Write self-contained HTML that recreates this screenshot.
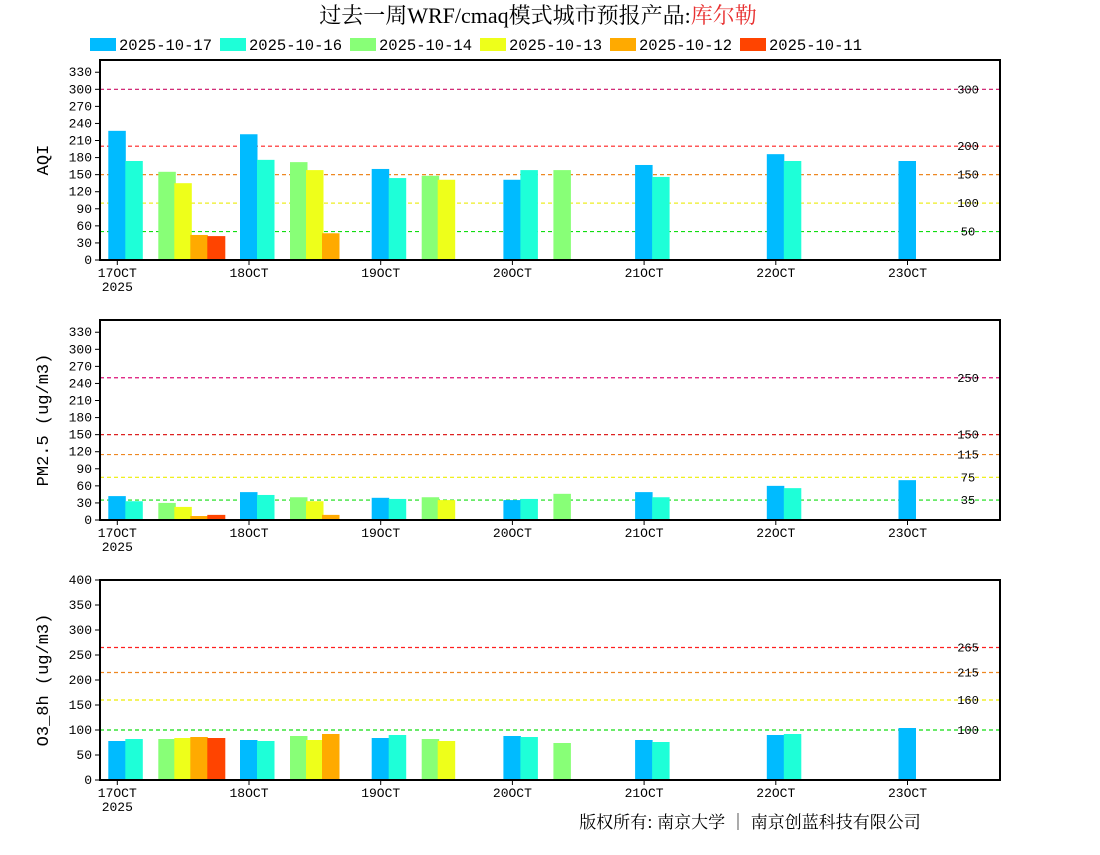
<!DOCTYPE html>
<html><head><meta charset="utf-8"><style>
body{margin:0;background:#fff;}
svg text{font-family:"Liberation Mono","WenQuanYi Zen Hei",monospace;}
</style></head><body>
<svg id="c" width="1100" height="850" xmlns="http://www.w3.org/2000/svg">
<text x="538" y="23" text-anchor="middle" font-size="22" style="font-family:'Liberation Serif','Noto Serif CJK SC',serif">过去一周WRF/cmaq模式城市预报产品:<tspan fill="#e83030">库尔勒</tspan></text>
<g id="legend"></g>
<g id="panels"></g>
<text x="750" y="828" text-anchor="middle" font-size="17" style="font-family:'Noto Serif CJK SC',serif">版权所有: 南京大学 │ 南京创蓝科技有限公司</text>
</svg>
<script>
const seriesNames=["2025-10-17","2025-10-16","2025-10-14","2025-10-13","2025-10-12","2025-10-11"];
const seriesColors=["#00bbff","#1effd8","#88ff77","#eeff1a","#ffaa00","#ff4400"];
const days=[17,18,19,20,21,22,23];
const dayLabels=["17OCT","18OCT","19OCT","20OCT","21OCT","22OCT","23OCT"];
const aqi17=[227,221,160,141,167,186,174];
const aqi16=[174,176,144,158,146,174,null];
const aqi14=[155,172,148,158,null,null,null];
const aqi13=[135,158,141,null,null,null,null];
const aqi12=[44,47,null,null,null,null,null];
const aqi11=[42,null,null,null,null,null,null];
const pm17=[42,49,39,35,49,60,70];
const pm16=[33,44,37,37,40,56,null];
const pm14=[30,40,40,46,null,null,null];
const pm13=[23,33,35,null,null,null,null];
const pm12=[7,9,null,null,null,null,null];
const pm11=[9,null,null,null,null,null,null];
const o317=[78,80,84,88,80,90,104];
const o316=[82,78,90,86,76,92,null];
const o314=[82,88,82,74,null,null,null];
const o313=[84,80,78,null,null,null,null];
const o312=[86,92,null,null,null,null,null];
const o311=[84,null,null,null,null,null,null];
const aqiTicks=[0,30,60,90,120,150,180,210,240,270,300,330];
const pmTicks=[0,30,60,90,120,150,180,210,240,270,300,330];
const o3Ticks=[0,50,100,150,200,250,300,350,400];
const aqiRefs=[300,200,150,100,50];
const pmRefs=[250,150,115,75,35];
const o3Refs=[265,215,160,100];

const NS="http://www.w3.org/2000/svg";
const svg=document.getElementById('c');
function mk(tag,attrs,parent){const e=document.createElementNS(NS,tag);for(const k in attrs)e.setAttribute(k,attrs[k]);(parent||svg).appendChild(e);return e;}

const lg=document.getElementById('legend');
seriesNames.forEach((n,i)=>{
  const r=mk('rect',{x:90+130*i,y:38,width:26,height:13,fill:seriesColors[i]},lg);
  
  
  const t=mk('text',{x:119+130*i,y:50,'font-size':15.5},lg);
  t.textContent=n;
  
  
});

const X0=100,X1=1000;
function xDay(i){return 117.3+131.7*i;}
const offs=[-9,8,41,57,73,90];
const panels=[
 {name:'aqi',title:'AQI',top:60,max:351.5,ticks:aqiTicks,refs:aqiRefs,refColors:["#cc1166","#ff2020","#ee8822","#eeee22","#11dd11"],data:[aqi17,aqi16,aqi14,aqi13,aqi12,aqi11]},
 {name:'pm25',title:'PM2.5 (ug/m3)',top:320,max:351.5,ticks:pmTicks,refs:pmRefs,refColors:["#dd1177","#dd2222","#ee8822","#eeee00","#11dd11"],data:[pm17,pm16,pm14,pm13,pm12,pm11]},
 {name:'o3',title:'O3_8h (ug/m3)',top:580,max:400,ticks:o3Ticks,refs:o3Refs,refColors:["#ff2020","#ee8822","#eeee00","#11dd11"],data:[o317,o316,o314,o313,o312,o311]}
];
const PH=200;
panels.forEach(p=>{
  const g=mk('g',{},document.getElementById('panels'));
  
  
  const bot=p.top+PH;
  const y=v=>bot-v/p.max*PH;
  p.refs.forEach((v,i)=>{
    const l=mk('line',{x1:X0,x2:X1,y1:y(v),y2:y(v),stroke:p.refColors[i],'stroke-width':1.2,'stroke-dasharray':'4,3'},g);
    
    
    const t=mk('text',{x:968,y:y(v)+4,'text-anchor':'middle','font-size':12,fill:'#000'},g);
    t.textContent=v;
    
    
  });
  p.data.forEach((arr,si)=>{
    arr.forEach((v,di)=>{
      if(v==null)return;
      const b=mk('rect',{x:xDay(di)+offs[si],y:y(v),width:si==5?18:17.5,height:bot-y(v),fill:seriesColors[si]},g);
      
      
    });
  });
  const fr=mk('rect',{x:X0,y:p.top,width:X1-X0,height:PH,fill:'none',stroke:'#000','stroke-width':2},g);
  
  
  p.ticks.forEach(v=>{
    mk('line',{x1:X0-5,x2:X0,y1:y(v),y2:y(v),stroke:'#000'},g);
    const t=mk('text',{x:92,y:y(v)+4,'text-anchor':'end','font-size':13},g);
    t.textContent=v;
    
    
  });
  days.forEach((d,i)=>{
    mk('line',{x1:xDay(i),x2:xDay(i),y1:bot,y2:bot+5,stroke:'#000'},g);
    const t=mk('text',{x:xDay(i),y:bot+17,'text-anchor':'middle','font-size':13},g);
    t.textContent=dayLabels[i];
    
    
  });
  const yr=mk('text',{x:xDay(0),y:bot+31,'text-anchor':'middle','font-size':13},g);
  yr.textContent='2025';
  
  
  const yt=mk('text',{x:48,y:p.top+PH/2,'text-anchor':'middle','font-size':17,transform:'rotate(-90 48 '+(p.top+PH/2)+')'},g);
  yt.textContent=p.title;
  
  
});
</script>
</body></html>
